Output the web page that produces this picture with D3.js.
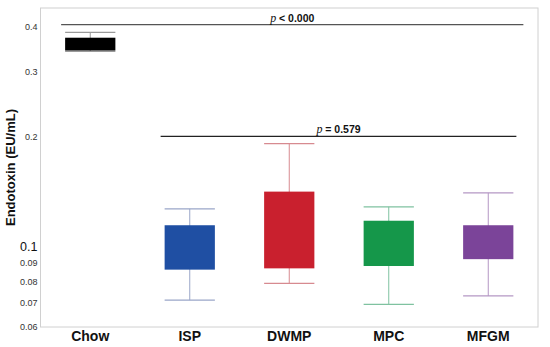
<!DOCTYPE html>
<html>
<head>
<meta charset="utf-8">
<script src="https://cdn.jsdelivr.net/npm/d3@7"></script>
<style>
  body { margin: 0; background: #fff; }
  svg { display: block; }
</style>
</head>
<body>
<svg width="550" height="347"></svg>
<script>
const width = 550
const height = 347

// groups and box statistics (EU/mL)
const groups = ["Chow", "ISP", "DWMP", "MPC", "MFGM"]
const whiskerLow = [0.342, 0.0711, 0.0790, 0.0692, 0.0730]
const boxLow = [0.344, 0.0862, 0.0869, 0.0882, 0.0921]
const boxHigh = [0.373, 0.1141, 0.1411, 0.1174, 0.1141]
const whiskerHigh = [0.386, 0.1266, 0.191, 0.1282, 0.140]
const boxColors = ["#000000", "#1f4fa3", "#c9202e", "#15974a", "#7b4499"]
const whiskerColors = ["#9a9a9a", "#9aa6c8", "#d78a90", "#7fc2a0", "#b497c4"]

const yTicks = [0.06, 0.07, 0.08, 0.09, 0.1, 0.2, 0.3, 0.4]

// significance brackets
const sigFrom = ["Chow", "ISP"]
const sigTo = ["MFGM", "MFGM"]
const sigValue = [0.405, 0.2]
const sigSign = ["<", "="]
const sigP = ["0.000", "0.579"]

const margin = {top: 8, right: 12, bottom: 20, left: 40.5}

const svg = d3.select("svg")

const x = d3.scaleBand()
    .domain(groups)
    .range([margin.left, width - margin.right])

const y = d3.scaleLog()
    .domain([0.06, 0.45])
    .range([height - margin.bottom, margin.top])

// plot frame
svg.append("rect")
    .attr("x", margin.left)
    .attr("y", margin.top)
    .attr("width", width - margin.right - margin.left)
    .attr("height", height - margin.bottom - margin.top)
    .attr("fill", "none")
    .attr("stroke", "#d0d0d0")

// y tick labels
svg.append("g")
    .attr("font-family", "Liberation Sans, Arial, sans-serif")
    .attr("text-anchor", "end")
    .selectAll("text")
    .data(yTicks)
    .join("text")
    .attr("x", margin.left - 3)
    .attr("y", d => y(d))
    .attr("dy", "0.35em")
    .attr("font-size", d => d === 0.1 ? 12.5 : 9)
    .attr("fill", d => d === 0.1 ? "#111" : "#333")
    .text(d => d3.format("~g")(d))

// y title
svg.append("text")
    .attr("transform", `translate(14.5,${(margin.top + height - margin.bottom) / 2}) rotate(-90)`)
    .attr("text-anchor", "middle")
    .attr("font-family", "Liberation Sans, Arial, sans-serif")
    .attr("font-weight", "bold")
    .attr("font-size", 13)
    .attr("fill", "#111")
    .text("Endotoxin (EU/mL)")

// x labels
svg.append("g")
    .attr("font-family", "Liberation Sans, Arial, sans-serif")
    .attr("font-weight", "bold")
    .attr("font-size", 14)
    .attr("text-anchor", "middle")
    .selectAll("text")
    .data(groups)
    .join("text")
    .attr("x", d => x(d) + x.bandwidth() / 2)
    .attr("y", 341)
    .attr("fill", "#111")
    .text(d => d)

// boxes
const boxW = x.bandwidth() * 0.505
const box = svg.append("g")
    .selectAll("g")
    .data(groups)
    .join("g")
    .attr("transform", d => `translate(${x(d) + x.bandwidth() / 2},0)`)

box.append("line")
    .attr("y1", (d, i) => y(whiskerLow[i]))
    .attr("y2", (d, i) => y(whiskerHigh[i]))
    .attr("stroke", (d, i) => whiskerColors[i])

box.selectAll(".cap")
    .data((d, i) => [{v: whiskerLow[i], i}, {v: whiskerHigh[i], i}])
    .join("line")
    .attr("class", "cap")
    .attr("x1", -boxW / 2)
    .attr("x2", boxW / 2)
    .attr("y1", c => y(c.v))
    .attr("y2", c => y(c.v))
    .attr("stroke", c => whiskerColors[c.i])
    .attr("stroke-width", 1.2)

box.append("rect")
    .attr("x", -boxW / 2)
    .attr("width", boxW)
    .attr("y", (d, i) => y(boxHigh[i]))
    .attr("height", (d, i) => y(boxLow[i]) - y(boxHigh[i]))
    .attr("fill", (d, i) => boxColors[i])

// significance lines
const lineStart = i => x(sigFrom[i]) + x.bandwidth() / 2 - boxW / 2 - 4
const lineEnd = i => x(sigTo[i]) + x.bandwidth() / 2 + boxW / 2 + (i === 0 ? 10 : 3)

const sig = svg.append("g")
    .selectAll("g")
    .data(sigValue)
    .join("g")

sig.append("line")
    .attr("x1", (d, i) => lineStart(i))
    .attr("x2", (d, i) => lineEnd(i))
    .attr("y1", d => y(d))
    .attr("y2", d => y(d))
    .attr("stroke", (d, i) => i === 0 ? "#555" : "#222")
    .attr("stroke-width", 1.3)

const sigText = sig.append("text")
    .attr("x", (d, i) => (lineStart(i) + lineEnd(i)) / 2)
    .attr("y", d => y(d) - 3)
    .attr("text-anchor", "middle")
    .attr("font-size", 10.5)
    .attr("fill", "#111")

sigText.append("tspan")
    .attr("font-family", "Liberation Serif, Times New Roman, serif")
    .attr("font-style", "italic")
    .attr("font-size", 12)
    .text("p")

sigText.append("tspan")
    .attr("font-family", "Liberation Sans, Arial, sans-serif")
    .attr("font-weight", "bold")
    .text((d, i) => ` ${sigSign[i]} ${sigP[i]}`)
</script>
</body>
</html>
